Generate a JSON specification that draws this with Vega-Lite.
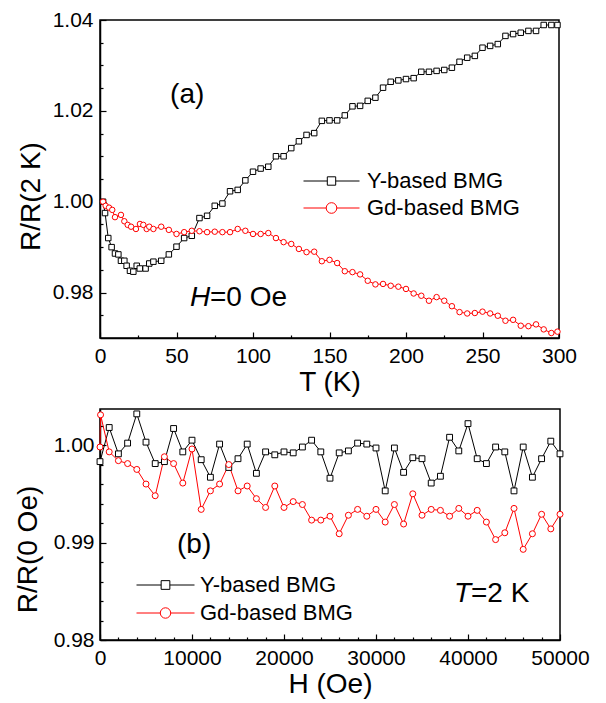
{
  "$schema": "https://vega.github.io/schema/vega-lite/v6.json",
  "padding": {"left": 13, "top": 8, "right": 5, "bottom": 5},
  "spacing": 11,
  "resolve": {"scale": {"stroke": "independent", "shape": "independent"}, "legend": {"stroke": "independent", "shape": "independent"}},
  "config": {
    "font": "Liberation Sans",
    "view": {"stroke": "black", "strokeWidth": 1.5},
    "axis": {"grid": false, "domainColor": "black", "domainWidth": 1.5, "tickColor": "black", "tickWidth": 1.2, "labelColor": "black", "titleColor": "black", "labelFontSize": 21, "titleFontSize": 28, "titleFontWeight": "normal", "labelFlush": false, "labelOverlap": false, "labelFont": "Liberation Sans", "titleFont": "Liberation Sans"}
  },
  "datasets": {
    "top": [
      {"T": 2, "v": 1.0000, "s": "Y-based BMG"}, {"T": 3.3, "v": 0.9975, "s": "Y-based BMG"}, {"T": 5.4, "v": 0.9920, "s": "Y-based BMG"}, {"T": 7.6, "v": 0.9900, "s": "Y-based BMG"}, {"T": 9.8, "v": 0.9886, "s": "Y-based BMG"}, {"T": 12, "v": 0.9884, "s": "Y-based BMG"}, {"T": 13.7, "v": 0.9870, "s": "Y-based BMG"}, {"T": 15.9, "v": 0.9870, "s": "Y-based BMG"}, {"T": 17.4, "v": 0.9859, "s": "Y-based BMG"}, {"T": 19.6, "v": 0.9848, "s": "Y-based BMG"}, {"T": 21.8, "v": 0.9846, "s": "Y-based BMG"}, {"T": 24, "v": 0.9859, "s": "Y-based BMG"}, {"T": 26, "v": 0.9853, "s": "Y-based BMG"}, {"T": 29.8, "v": 0.9853, "s": "Y-based BMG"}, {"T": 32.2, "v": 0.9864, "s": "Y-based BMG"}, {"T": 34.9, "v": 0.9868, "s": "Y-based BMG"}, {"T": 40, "v": 0.9870, "s": "Y-based BMG"}, {"T": 45, "v": 0.9884, "s": "Y-based BMG"}, {"T": 50, "v": 0.9901, "s": "Y-based BMG"}, {"T": 55, "v": 0.9920, "s": "Y-based BMG"}, {"T": 60, "v": 0.9925, "s": "Y-based BMG"}, {"T": 65, "v": 0.9964, "s": "Y-based BMG"}, {"T": 70, "v": 0.9969, "s": "Y-based BMG"}, {"T": 75, "v": 0.9991, "s": "Y-based BMG"}, {"T": 80, "v": 0.9996, "s": "Y-based BMG"}, {"T": 85, "v": 1.0023, "s": "Y-based BMG"}, {"T": 90, "v": 1.0026, "s": "Y-based BMG"}, {"T": 95, "v": 1.0047, "s": "Y-based BMG"}, {"T": 100, "v": 1.0066, "s": "Y-based BMG"}, {"T": 105, "v": 1.0073, "s": "Y-based BMG"}, {"T": 110, "v": 1.0077, "s": "Y-based BMG"}, {"T": 115, "v": 1.0100, "s": "Y-based BMG"}, {"T": 120, "v": 1.0100, "s": "Y-based BMG"}, {"T": 125, "v": 1.0118, "s": "Y-based BMG"}, {"T": 130, "v": 1.0133, "s": "Y-based BMG"}, {"T": 135, "v": 1.0147, "s": "Y-based BMG"}, {"T": 140, "v": 1.0151, "s": "Y-based BMG"}, {"T": 145, "v": 1.0178, "s": "Y-based BMG"}, {"T": 150, "v": 1.0179, "s": "Y-based BMG"}, {"T": 155, "v": 1.0179, "s": "Y-based BMG"}, {"T": 160, "v": 1.0190, "s": "Y-based BMG"}, {"T": 165, "v": 1.0210, "s": "Y-based BMG"}, {"T": 170, "v": 1.0211, "s": "Y-based BMG"}, {"T": 175, "v": 1.0222, "s": "Y-based BMG"}, {"T": 180, "v": 1.0229, "s": "Y-based BMG"}, {"T": 185, "v": 1.0251, "s": "Y-based BMG"}, {"T": 190, "v": 1.0264, "s": "Y-based BMG"}, {"T": 195, "v": 1.0267, "s": "Y-based BMG"}, {"T": 200, "v": 1.0270, "s": "Y-based BMG"}, {"T": 205, "v": 1.0272, "s": "Y-based BMG"}, {"T": 210, "v": 1.0286, "s": "Y-based BMG"}, {"T": 215, "v": 1.0286, "s": "Y-based BMG"}, {"T": 220, "v": 1.0288, "s": "Y-based BMG"}, {"T": 225, "v": 1.0290, "s": "Y-based BMG"}, {"T": 230, "v": 1.0295, "s": "Y-based BMG"}, {"T": 235, "v": 1.0308, "s": "Y-based BMG"}, {"T": 240, "v": 1.0317, "s": "Y-based BMG"}, {"T": 245, "v": 1.0321, "s": "Y-based BMG"}, {"T": 250, "v": 1.0339, "s": "Y-based BMG"}, {"T": 255, "v": 1.0343, "s": "Y-based BMG"}, {"T": 260, "v": 1.0347, "s": "Y-based BMG"}, {"T": 265, "v": 1.0365, "s": "Y-based BMG"}, {"T": 270, "v": 1.0369, "s": "Y-based BMG"}, {"T": 275, "v": 1.0372, "s": "Y-based BMG"}, {"T": 280, "v": 1.0376, "s": "Y-based BMG"}, {"T": 285, "v": 1.0376, "s": "Y-based BMG"}, {"T": 290, "v": 1.0389, "s": "Y-based BMG"}, {"T": 295, "v": 1.0389, "s": "Y-based BMG"}, {"T": 299, "v": 1.0389, "s": "Y-based BMG"},
      {"T": 2, "v": 1.0000, "s": "Gd-based BMG"}, {"T": 3.7, "v": 0.9991, "s": "Gd-based BMG"}, {"T": 5.9, "v": 0.9987, "s": "Gd-based BMG"}, {"T": 8, "v": 0.9982, "s": "Gd-based BMG"}, {"T": 9.8, "v": 0.9966, "s": "Gd-based BMG"}, {"T": 13.7, "v": 0.9971, "s": "Gd-based BMG"}, {"T": 15.9, "v": 0.9957, "s": "Gd-based BMG"}, {"T": 18.1, "v": 0.9949, "s": "Gd-based BMG"}, {"T": 20.3, "v": 0.9945, "s": "Gd-based BMG"}, {"T": 23.5, "v": 0.9940, "s": "Gd-based BMG"}, {"T": 26.1, "v": 0.9951, "s": "Gd-based BMG"}, {"T": 28.3, "v": 0.9949, "s": "Gd-based BMG"}, {"T": 30.5, "v": 0.9940, "s": "Gd-based BMG"}, {"T": 32.2, "v": 0.9945, "s": "Gd-based BMG"}, {"T": 34.9, "v": 0.9940, "s": "Gd-based BMG"}, {"T": 40, "v": 0.9945, "s": "Gd-based BMG"}, {"T": 45, "v": 0.9938, "s": "Gd-based BMG"}, {"T": 50, "v": 0.9929, "s": "Gd-based BMG"}, {"T": 55, "v": 0.9933, "s": "Gd-based BMG"}, {"T": 60, "v": 0.9936, "s": "Gd-based BMG"}, {"T": 65, "v": 0.9935, "s": "Gd-based BMG"}, {"T": 70, "v": 0.9933, "s": "Gd-based BMG"}, {"T": 75, "v": 0.9934, "s": "Gd-based BMG"}, {"T": 80, "v": 0.9933, "s": "Gd-based BMG"}, {"T": 85, "v": 0.9933, "s": "Gd-based BMG"}, {"T": 90, "v": 0.9940, "s": "Gd-based BMG"}, {"T": 95, "v": 0.9936, "s": "Gd-based BMG"}, {"T": 100, "v": 0.9929, "s": "Gd-based BMG"}, {"T": 105, "v": 0.9929, "s": "Gd-based BMG"}, {"T": 110, "v": 0.9931, "s": "Gd-based BMG"}, {"T": 115, "v": 0.9920, "s": "Gd-based BMG"}, {"T": 120, "v": 0.9911, "s": "Gd-based BMG"}, {"T": 125, "v": 0.9907, "s": "Gd-based BMG"}, {"T": 130, "v": 0.9896, "s": "Gd-based BMG"}, {"T": 135, "v": 0.9889, "s": "Gd-based BMG"}, {"T": 140, "v": 0.9890, "s": "Gd-based BMG"}, {"T": 145, "v": 0.9869, "s": "Gd-based BMG"}, {"T": 150, "v": 0.9872, "s": "Gd-based BMG"}, {"T": 155, "v": 0.9865, "s": "Gd-based BMG"}, {"T": 160, "v": 0.9847, "s": "Gd-based BMG"}, {"T": 165, "v": 0.9845, "s": "Gd-based BMG"}, {"T": 170, "v": 0.9840, "s": "Gd-based BMG"}, {"T": 175, "v": 0.9826, "s": "Gd-based BMG"}, {"T": 180, "v": 0.9818, "s": "Gd-based BMG"}, {"T": 185, "v": 0.9819, "s": "Gd-based BMG"}, {"T": 190, "v": 0.9815, "s": "Gd-based BMG"}, {"T": 195, "v": 0.9813, "s": "Gd-based BMG"}, {"T": 200, "v": 0.9808, "s": "Gd-based BMG"}, {"T": 205, "v": 0.9798, "s": "Gd-based BMG"}, {"T": 210, "v": 0.9793, "s": "Gd-based BMG"}, {"T": 215, "v": 0.9782, "s": "Gd-based BMG"}, {"T": 220, "v": 0.9790, "s": "Gd-based BMG"}, {"T": 225, "v": 0.9782, "s": "Gd-based BMG"}, {"T": 230, "v": 0.9770, "s": "Gd-based BMG"}, {"T": 235, "v": 0.9757, "s": "Gd-based BMG"}, {"T": 240, "v": 0.9754, "s": "Gd-based BMG"}, {"T": 245, "v": 0.9755, "s": "Gd-based BMG"}, {"T": 250, "v": 0.9758, "s": "Gd-based BMG"}, {"T": 255, "v": 0.9754, "s": "Gd-based BMG"}, {"T": 260, "v": 0.9749, "s": "Gd-based BMG"}, {"T": 265, "v": 0.9738, "s": "Gd-based BMG"}, {"T": 270, "v": 0.9740, "s": "Gd-based BMG"}, {"T": 275, "v": 0.9727, "s": "Gd-based BMG"}, {"T": 280, "v": 0.9726, "s": "Gd-based BMG"}, {"T": 285, "v": 0.9730, "s": "Gd-based BMG"}, {"T": 290, "v": 0.9719, "s": "Gd-based BMG"}, {"T": 295, "v": 0.9711, "s": "Gd-based BMG"}, {"T": 299, "v": 0.9714, "s": "Gd-based BMG"}
    ],
    "bottom": [
      {"H": 0, "v": 0.9983, "s": "Y-based BMG"}, {"H": 1000, "v": 1.0018, "s": "Y-based BMG"}, {"H": 2000, "v": 0.9991, "s": "Y-based BMG"}, {"H": 3000, "v": 1.0002, "s": "Y-based BMG"}, {"H": 4000, "v": 1.0032, "s": "Y-based BMG"}, {"H": 5000, "v": 1.0003, "s": "Y-based BMG"}, {"H": 6000, "v": 0.9981, "s": "Y-based BMG"}, {"H": 7000, "v": 0.9983, "s": "Y-based BMG"}, {"H": 8000, "v": 1.0017, "s": "Y-based BMG"}, {"H": 9000, "v": 0.9993, "s": "Y-based BMG"}, {"H": 10000, "v": 1.0005, "s": "Y-based BMG"}, {"H": 11000, "v": 0.9985, "s": "Y-based BMG"}, {"H": 12000, "v": 0.9967, "s": "Y-based BMG"}, {"H": 13000, "v": 1.0001, "s": "Y-based BMG"}, {"H": 14000, "v": 0.9977, "s": "Y-based BMG"}, {"H": 15000, "v": 0.9986, "s": "Y-based BMG"}, {"H": 16000, "v": 1.0001, "s": "Y-based BMG"}, {"H": 17000, "v": 0.9971, "s": "Y-based BMG"}, {"H": 18000, "v": 0.9993, "s": "Y-based BMG"}, {"H": 19000, "v": 0.9990, "s": "Y-based BMG"}, {"H": 20000, "v": 0.9993, "s": "Y-based BMG"}, {"H": 21000, "v": 0.9992, "s": "Y-based BMG"}, {"H": 22000, "v": 0.9998, "s": "Y-based BMG"}, {"H": 23000, "v": 1.0005, "s": "Y-based BMG"}, {"H": 24000, "v": 0.9993, "s": "Y-based BMG"}, {"H": 25000, "v": 0.9966, "s": "Y-based BMG"}, {"H": 26000, "v": 0.9992, "s": "Y-based BMG"}, {"H": 27000, "v": 0.9994, "s": "Y-based BMG"}, {"H": 28000, "v": 1.0002, "s": "Y-based BMG"}, {"H": 29000, "v": 1.0001, "s": "Y-based BMG"}, {"H": 30000, "v": 0.9997, "s": "Y-based BMG"}, {"H": 31000, "v": 0.9953, "s": "Y-based BMG"}, {"H": 32000, "v": 0.9997, "s": "Y-based BMG"}, {"H": 33000, "v": 0.9972, "s": "Y-based BMG"}, {"H": 34000, "v": 0.9987, "s": "Y-based BMG"}, {"H": 35000, "v": 0.9986, "s": "Y-based BMG"}, {"H": 36000, "v": 0.9961, "s": "Y-based BMG"}, {"H": 37000, "v": 0.9968, "s": "Y-based BMG"}, {"H": 38000, "v": 1.0008, "s": "Y-based BMG"}, {"H": 39000, "v": 0.9994, "s": "Y-based BMG"}, {"H": 40000, "v": 1.0022, "s": "Y-based BMG"}, {"H": 41000, "v": 0.9986, "s": "Y-based BMG"}, {"H": 42000, "v": 0.9981, "s": "Y-based BMG"}, {"H": 43000, "v": 0.9998, "s": "Y-based BMG"}, {"H": 44000, "v": 0.9993, "s": "Y-based BMG"}, {"H": 45000, "v": 0.9953, "s": "Y-based BMG"}, {"H": 46000, "v": 0.9998, "s": "Y-based BMG"}, {"H": 47000, "v": 0.9967, "s": "Y-based BMG"}, {"H": 48000, "v": 0.9986, "s": "Y-based BMG"}, {"H": 49000, "v": 1.0004, "s": "Y-based BMG"}, {"H": 50000, "v": 0.9991, "s": "Y-based BMG"},
      {"H": 0, "v": 0.9998, "s": "Gd-based BMG"}, {"H": 60, "v": 1.0031, "s": "Gd-based BMG"}, {"H": 1000, "v": 0.9993, "s": "Gd-based BMG"}, {"H": 2000, "v": 0.9984, "s": "Gd-based BMG"}, {"H": 3000, "v": 0.9981, "s": "Gd-based BMG"}, {"H": 4000, "v": 0.9975, "s": "Gd-based BMG"}, {"H": 5000, "v": 0.9960, "s": "Gd-based BMG"}, {"H": 6000, "v": 0.9948, "s": "Gd-based BMG"}, {"H": 7000, "v": 0.9988, "s": "Gd-based BMG"}, {"H": 8000, "v": 0.9981, "s": "Gd-based BMG"}, {"H": 9000, "v": 0.9961, "s": "Gd-based BMG"}, {"H": 10000, "v": 0.9996, "s": "Gd-based BMG"}, {"H": 11000, "v": 0.9934, "s": "Gd-based BMG"}, {"H": 12000, "v": 0.9953, "s": "Gd-based BMG"}, {"H": 13000, "v": 0.9960, "s": "Gd-based BMG"}, {"H": 14000, "v": 0.9980, "s": "Gd-based BMG"}, {"H": 15000, "v": 0.9953, "s": "Gd-based BMG"}, {"H": 16000, "v": 0.9958, "s": "Gd-based BMG"}, {"H": 17000, "v": 0.9945, "s": "Gd-based BMG"}, {"H": 18000, "v": 0.9936, "s": "Gd-based BMG"}, {"H": 19000, "v": 0.9958, "s": "Gd-based BMG"}, {"H": 20000, "v": 0.9936, "s": "Gd-based BMG"}, {"H": 21000, "v": 0.9942, "s": "Gd-based BMG"}, {"H": 22000, "v": 0.9939, "s": "Gd-based BMG"}, {"H": 23000, "v": 0.9923, "s": "Gd-based BMG"}, {"H": 24000, "v": 0.9923, "s": "Gd-based BMG"}, {"H": 25000, "v": 0.9927, "s": "Gd-based BMG"}, {"H": 26000, "v": 0.9909, "s": "Gd-based BMG"}, {"H": 27000, "v": 0.9928, "s": "Gd-based BMG"}, {"H": 28000, "v": 0.9934, "s": "Gd-based BMG"}, {"H": 29000, "v": 0.9927, "s": "Gd-based BMG"}, {"H": 30000, "v": 0.9934, "s": "Gd-based BMG"}, {"H": 31000, "v": 0.9921, "s": "Gd-based BMG"}, {"H": 32000, "v": 0.9939, "s": "Gd-based BMG"}, {"H": 33000, "v": 0.9919, "s": "Gd-based BMG"}, {"H": 34000, "v": 0.9950, "s": "Gd-based BMG"}, {"H": 35000, "v": 0.9928, "s": "Gd-based BMG"}, {"H": 36000, "v": 0.9934, "s": "Gd-based BMG"}, {"H": 37000, "v": 0.9933, "s": "Gd-based BMG"}, {"H": 38000, "v": 0.9927, "s": "Gd-based BMG"}, {"H": 39000, "v": 0.9935, "s": "Gd-based BMG"}, {"H": 40000, "v": 0.9927, "s": "Gd-based BMG"}, {"H": 41000, "v": 0.9933, "s": "Gd-based BMG"}, {"H": 42000, "v": 0.9921, "s": "Gd-based BMG"}, {"H": 43000, "v": 0.9903, "s": "Gd-based BMG"}, {"H": 44000, "v": 0.9910, "s": "Gd-based BMG"}, {"H": 45000, "v": 0.9935, "s": "Gd-based BMG"}, {"H": 46000, "v": 0.9893, "s": "Gd-based BMG"}, {"H": 47000, "v": 0.9909, "s": "Gd-based BMG"}, {"H": 48000, "v": 0.9929, "s": "Gd-based BMG"}, {"H": 49000, "v": 0.9914, "s": "Gd-based BMG"}, {"H": 50000, "v": 0.9929, "s": "Gd-based BMG"}
    ]
  },
  "vconcat": [
    {
      "width": 459,
      "height": 318,
      "resolve": {"axis": {"x": "independent", "y": "independent"}},
      "layer": [
        {
          "data": {"name": "top"},
          "mark": {"type": "line", "strokeWidth": 1},
          "encoding": {
            "x": {"field": "T", "type": "quantitative", "scale": {"domain": [0, 300], "nice": false}, "axis": {"orient": "bottom", "values": [0, 50, 100, 150, 200, 250, 300], "tickSize": -6, "labelPadding": 13, "title": "T (K)", "titlePadding": 2}},
            "y": {"field": "v", "type": "quantitative", "scale": {"domain": [0.97, 1.04], "nice": false, "zero": false}, "axis": {"orient": "left", "values": [0.98, 1.0, 1.02, 1.04], "format": ".2f", "tickSize": -6, "labelPadding": 13, "title": "R/R(2 K)", "titleX": -69, "titleY": 176, "titleAlign": "center", "titleBaseline": "middle", "titleAngle": -90}},
            "stroke": {"field": "s", "type": "nominal", "scale": {"domain": ["Y-based BMG", "Gd-based BMG"], "range": ["#000000", "#ff0000"]}}
          }
        },
        {
          "data": {"name": "top"},
          "transform": [{"filter": "datum.s === 'Y-based BMG'"}],
          "mark": {"type": "point", "shape": "square", "size": 30, "strokeWidth": 1, "fill": "white", "filled": true, "opacity": 1},
          "encoding": {
            "x": {"field": "T", "type": "quantitative", "axis": {"orient": "bottom", "values": [25, 75, 125, 175, 225, 275], "tickSize": -3, "labels": false, "domain": false, "title": null}},
            "y": {"field": "v", "type": "quantitative", "axis": {"orient": "left", "values": [0.975, 0.985, 0.99, 0.995, 1.005, 1.01, 1.015, 1.025, 1.03, 1.035], "tickSize": -3, "labels": false, "domain": false, "title": null}},
            "stroke": {"field": "s", "type": "nominal", "scale": {"domain": ["Y-based BMG", "Gd-based BMG"], "range": ["#000000", "#ff0000"]}}
          }
        },
        {
          "data": {"name": "top"},
          "transform": [{"filter": "datum.s === 'Gd-based BMG'"}],
          "mark": {"type": "point", "shape": "circle", "size": 30, "strokeWidth": 1, "fill": "white", "filled": true, "opacity": 1},
          "encoding": {
            "x": {"field": "T", "type": "quantitative", "axis": null},
            "y": {"field": "v", "type": "quantitative", "axis": null},
            "stroke": {"field": "s", "type": "nominal", "scale": {"domain": ["Y-based BMG", "Gd-based BMG"], "range": ["#000000", "#ff0000"]}}
          }
        },
        {
          "data": {"name": "top"},
          "transform": [{"filter": "false"}],
          "mark": {"type": "point", "filled": false, "strokeWidth": 1},
          "encoding": {
            "x": {"field": "T", "type": "quantitative", "axis": null},
            "y": {"field": "v", "type": "quantitative", "axis": null},
            "stroke": {"field": "s", "type": "nominal", "scale": {"domain": ["Y-based BMG", "Gd-based BMG"], "range": ["#000000", "#ff0000"]}, "legend": {"orient": "none", "legendX": 203, "legendY": 150, "title": null, "symbolSize": 3136, "symbolStrokeWidth": 1, "labelFontSize": 22, "labelOffset": 7, "clipHeight": 22, "rowPadding": 5, "padding": 0, "labelColor": "black", "labelFont": "Liberation Sans"}},
            "shape": {"field": "s", "type": "nominal", "scale": {"domain": ["Y-based BMG", "Gd-based BMG"], "range": ["M-1,0H-0.15M0.15,0H1M-0.15,-0.15H0.15V0.15H-0.15Z", "M-1,0H-0.19M0.19,0H1M-0.19,0A0.19,0.19 0 1,0 0.19,0A0.19,0.19 0 1,0 -0.19,0Z"]}, "legend": {"orient": "none", "legendX": 203, "legendY": 150, "title": null, "symbolSize": 3136, "symbolStrokeWidth": 1, "labelFontSize": 22, "labelOffset": 7, "clipHeight": 22, "rowPadding": 5, "padding": 0, "labelColor": "black", "labelFont": "Liberation Sans"}}
          }
        },
        {
          "data": {"values": [{}]},
          "mark": {"type": "text", "text": "(a)", "fontSize": 28, "align": "left", "baseline": "alphabetic", "font": "Liberation Sans"},
          "encoding": {"x": {"datum": 45.8, "type": "quantitative", "axis": null}, "y": {"datum": 1.0218, "type": "quantitative", "axis": null}}
        },
        {
          "data": {"values": [{}]},
          "mark": {"type": "text", "text": "H", "fontSize": 28, "fontStyle": "italic", "align": "left", "baseline": "alphabetic", "font": "Liberation Sans"},
          "encoding": {"x": {"datum": 58.8, "type": "quantitative", "axis": null}, "y": {"datum": 0.97714, "type": "quantitative", "axis": null}}
        },
        {
          "data": {"values": [{}]},
          "mark": {"type": "text", "text": "=0 Oe", "fontSize": 28, "align": "left", "baseline": "alphabetic", "dx": 20, "font": "Liberation Sans"},
          "encoding": {"x": {"datum": 58.8, "type": "quantitative", "axis": null}, "y": {"datum": 0.97714, "type": "quantitative", "axis": null}}
        }
      ]
    },
    {
      "width": 460,
      "height": 231,
      "resolve": {"axis": {"x": "independent", "y": "independent"}},
      "layer": [
        {
          "data": {"name": "bottom"},
          "mark": {"type": "line", "strokeWidth": 1},
          "encoding": {
            "x": {"field": "H", "type": "quantitative", "scale": {"domain": [0, 50000], "nice": false}, "axis": {"orient": "bottom", "values": [0, 10000, 20000, 30000, 40000, 50000], "format": "d", "tickSize": -6, "labelPadding": 13, "title": "H (Oe)", "titlePadding": 2}},
            "y": {"field": "v", "type": "quantitative", "scale": {"domain": [0.98, 1.0037], "nice": false, "zero": false}, "axis": {"orient": "left", "values": [0.98, 0.99, 1.0], "format": ".2f", "tickSize": -6, "labelPadding": 12, "title": "R/R(0 Oe)", "titleX": -72, "titleY": 140, "titleAlign": "center", "titleBaseline": "middle", "titleAngle": -90}},
            "stroke": {"field": "s", "type": "nominal", "scale": {"domain": ["Y-based BMG", "Gd-based BMG"], "range": ["#000000", "#ff0000"]}}
          }
        },
        {
          "data": {"name": "bottom"},
          "transform": [{"filter": "datum.s === 'Y-based BMG'"}],
          "mark": {"type": "point", "shape": "square", "size": 34, "strokeWidth": 1, "fill": "white", "filled": true, "opacity": 1},
          "encoding": {
            "x": {"field": "H", "type": "quantitative", "axis": {"orient": "bottom", "values": [2000, 4000, 6000, 8000, 12000, 14000, 16000, 18000, 22000, 24000, 26000, 28000, 32000, 34000, 36000, 38000, 42000, 44000, 46000, 48000], "tickSize": -3, "labels": false, "domain": false, "title": null}},
            "y": {"field": "v", "type": "quantitative", "axis": {"orient": "left", "values": [0.982, 0.984, 0.986, 0.988, 0.992, 0.994, 0.996, 0.998, 1.002], "tickSize": -3, "labels": false, "domain": false, "title": null}},
            "stroke": {"field": "s", "type": "nominal", "scale": {"domain": ["Y-based BMG", "Gd-based BMG"], "range": ["#000000", "#ff0000"]}}
          }
        },
        {
          "data": {"name": "bottom"},
          "transform": [{"filter": "datum.s === 'Gd-based BMG'"}],
          "mark": {"type": "point", "shape": "circle", "size": 36, "strokeWidth": 1, "fill": "white", "filled": true, "opacity": 1},
          "encoding": {
            "x": {"field": "H", "type": "quantitative", "axis": null},
            "y": {"field": "v", "type": "quantitative", "axis": null},
            "stroke": {"field": "s", "type": "nominal", "scale": {"domain": ["Y-based BMG", "Gd-based BMG"], "range": ["#000000", "#ff0000"]}}
          }
        },
        {
          "data": {"name": "bottom"},
          "transform": [{"filter": "false"}],
          "mark": {"type": "point", "filled": false, "strokeWidth": 1},
          "encoding": {
            "x": {"field": "H", "type": "quantitative", "axis": null},
            "y": {"field": "v", "type": "quantitative", "axis": null},
            "stroke": {"field": "s", "type": "nominal", "scale": {"domain": ["Y-based BMG", "Gd-based BMG"], "range": ["#000000", "#ff0000"]}, "legend": {"orient": "none", "legendX": 36, "legendY": 165, "title": null, "symbolSize": 3364, "symbolStrokeWidth": 1, "labelFontSize": 22, "labelOffset": 5, "clipHeight": 22, "rowPadding": 6, "padding": 0, "labelColor": "black", "labelFont": "Liberation Sans"}},
            "shape": {"field": "s", "type": "nominal", "scale": {"domain": ["Y-based BMG", "Gd-based BMG"], "range": ["M-1,0H-0.15M0.15,0H1M-0.15,-0.15H0.15V0.15H-0.15Z", "M-1,0H-0.18M0.18,0H1M-0.18,0A0.18,0.18 0 1,0 0.18,0A0.18,0.18 0 1,0 -0.18,0Z"]}, "legend": {"orient": "none", "legendX": 36, "legendY": 165, "title": null, "symbolSize": 3364, "symbolStrokeWidth": 1, "labelFontSize": 22, "labelOffset": 5, "clipHeight": 22, "rowPadding": 6, "padding": 0, "labelColor": "black", "labelFont": "Liberation Sans"}}
          }
        },
        {
          "data": {"values": [{}]},
          "mark": {"type": "text", "text": "(b)", "fontSize": 28, "align": "left", "baseline": "alphabetic", "font": "Liberation Sans"},
          "encoding": {"x": {"datum": 8370, "type": "quantitative", "axis": null}, "y": {"datum": 0.9889, "type": "quantitative", "axis": null}}
        },
        {
          "data": {"values": [{}]},
          "mark": {"type": "text", "text": "T", "fontSize": 28, "fontStyle": "italic", "align": "left", "baseline": "alphabetic", "font": "Liberation Sans"},
          "encoding": {"x": {"datum": 38478, "type": "quantitative", "axis": null}, "y": {"datum": 0.98388, "type": "quantitative", "axis": null}}
        },
        {
          "data": {"values": [{}]},
          "mark": {"type": "text", "text": "=2 K", "fontSize": 28, "align": "left", "baseline": "alphabetic", "dx": 17, "font": "Liberation Sans"},
          "encoding": {"x": {"datum": 38478, "type": "quantitative", "axis": null}, "y": {"datum": 0.98388, "type": "quantitative", "axis": null}}
        }
      ]
    }
  ]
}
